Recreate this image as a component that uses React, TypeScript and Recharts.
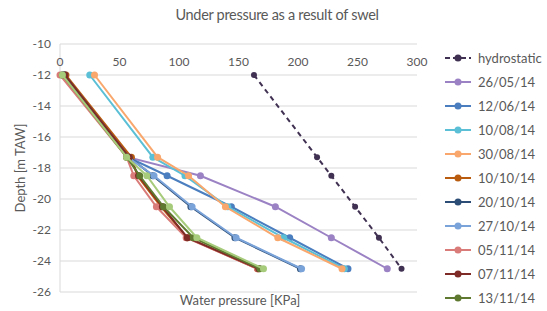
import React from 'react';
import { ScatterChart, Scatter, XAxis, YAxis, CartesianGrid } from 'recharts';

// depth of each piezometer (m TAW), shared by all series
const depths = [-12, -17.3, -18.5, -20.5, -22.5, -24.5];

// water pressure [kPa] per measurement date
const hydrostatic = [163, 216, 228, 248, 268, 287];
const d260514 = [2, 57, 118, 181, 228, 275];
const d120614 = [3, 57, 90, 144, 193, 242];
const d100814 = [25, 78, 105, 141, 188, 239];
const d300814 = [29, 82, 108, 139, 183, 237];
const d101014 = [5, 60, 65, 85, 107, 166];
const d201014 = [4, 58, 78, 110, 147, 202];
const d271014 = [3, 57, 79, 111, 148, 203];
const d051114 = [0, 56, 62, 81, 106, 166];
const d071114 = [4, 58, 66, 86, 107, 167];
const d131114 = [2, 56, 67, 87, 112, 168];
const d201114 = [2, 56, 73, 92, 115, 171]; // legend entry falls outside the picture

const xTicks = [0, 50, 100, 150, 200, 250, 300];
const yTicks = [-10, -12, -14, -16, -18, -20, -22, -24, -26];

const series = [
  { name: 'hydrostatic', values: hydrostatic, color: '#403152', dashed: true, legend: true },
  { name: '26/05/14', values: d260514, color: '#9B82C4', legend: true },
  { name: '12/06/14', values: d120614, color: '#4A7EBF', legend: true },
  { name: '10/08/14', values: d100814, color: '#5BC0D6', legend: true },
  { name: '30/08/14', values: d300814, color: '#F9A76C', legend: true },
  { name: '10/10/14', values: d101014, color: '#BA5C10', legend: true },
  { name: '20/10/14', values: d201014, color: '#2C4D75', legend: true },
  { name: '27/10/14', values: d271014, color: '#7AA3DA', legend: true },
  { name: '05/11/14', values: d051114, color: '#D97B78', legend: true },
  { name: '07/11/14', values: d071114, color: '#7E2A27', legend: true },
  { name: '13/11/14', values: d131114, color: '#5F7A30', legend: true },
  { name: '20/11/14', values: d201114, color: '#A6CB7A', legend: false },
];

const toPoints = (values: number[]) => values.map((p, i) => ({ p, d: depths[i] }));

const textColor = '#595959';
const font = 'Lato, "Open Sans", sans-serif';

// top axis, labels sit just under the -10 gridline like in Excel
const XTick = ({ x, y, payload }: any) => (
  <text x={x} y={y + 22} textAnchor="middle" fill={textColor} fontSize={12} fontFamily={font}>
    {payload.value}
  </text>
);

const dot = (color: string, r: number) => (props: any) =>
  <circle cx={props.cx} cy={props.cy} r={r} fill={color} />;

export default function App() {
  return (
    <div style={{ position: 'relative', width: 547, height: 311, fontFamily: font, background: '#fff' }}>
      <style>{'body{margin:0}'}</style>
      <div
        style={{
          position: 'absolute', left: 0, width: 554, top: 6, textAlign: 'center',
          fontSize: 14.5, letterSpacing: -0.3, color: textColor,
        }}
      >
        Under pressure as a result of swel
      </div>
      <ScatterChart width={547} height={311} margin={{ top: 24, right: 130, bottom: 19, left: 0 }}>
        <CartesianGrid vertical={false} stroke="#D9D9D9" />
        <XAxis
          type="number"
          dataKey="p"
          orientation="top"
          height={20}
          domain={[0, 300]}
          ticks={xTicks}
          axisLine={false}
          tickLine={false}
          tickSize={0}
          tickMargin={0}
          tick={<XTick />}
        />
        <YAxis
          type="number"
          dataKey="d"
          width={60}
          domain={[-26, -10]}
          ticks={yTicks}
          tickLine={false}
          tickSize={0}
          tickMargin={9}
          stroke="#D9D9D9"
          tick={{ fill: textColor, fontSize: 12, fontFamily: font }}
        />
        {series.map((s) => (
          <Scatter
            key={s.name}
            name={s.name}
            data={toPoints(s.values)}
            fill={s.color}
            line={{ stroke: s.color, strokeWidth: 2, strokeDasharray: s.dashed ? '5 4' : undefined }}
            shape={dot(s.color, s.dashed ? 3 : 3.5)}
            isAnimationActive={false}
          />
        ))}
      </ScatterChart>
      <div
        style={{
          position: 'absolute', left: 20, top: 168, fontSize: 13, color: textColor,
          transform: 'translate(-50%, -50%) rotate(-90deg)', whiteSpace: 'nowrap',
        }}
      >
        Depth [m TAW]
      </div>
      <div style={{ position: 'absolute', left: 240, top: 300, transform: 'translate(-50%, -50%)', fontSize: 13, color: textColor, whiteSpace: 'nowrap' }}>
        Water pressure [KPa]
      </div>
      <div style={{ position: 'absolute', left: 445, top: 46 }}>
        {series.filter((s) => s.legend).map((s) => (
          <div key={s.name} style={{ display: 'flex', alignItems: 'center', height: 24 }}>
            <svg width={30} height={10}>
              <line x1={0} y1={5} x2={26} y2={5} stroke={s.color} strokeWidth={2} strokeDasharray={s.dashed ? '5 3' : undefined} />
              <circle cx={13} cy={5} r={3.5} fill={s.color} />
            </svg>
            <span style={{ fontSize: 13, color: textColor, marginLeft: 3 }}>{s.name}</span>
          </div>
        ))}
      </div>
    </div>
  );
}
